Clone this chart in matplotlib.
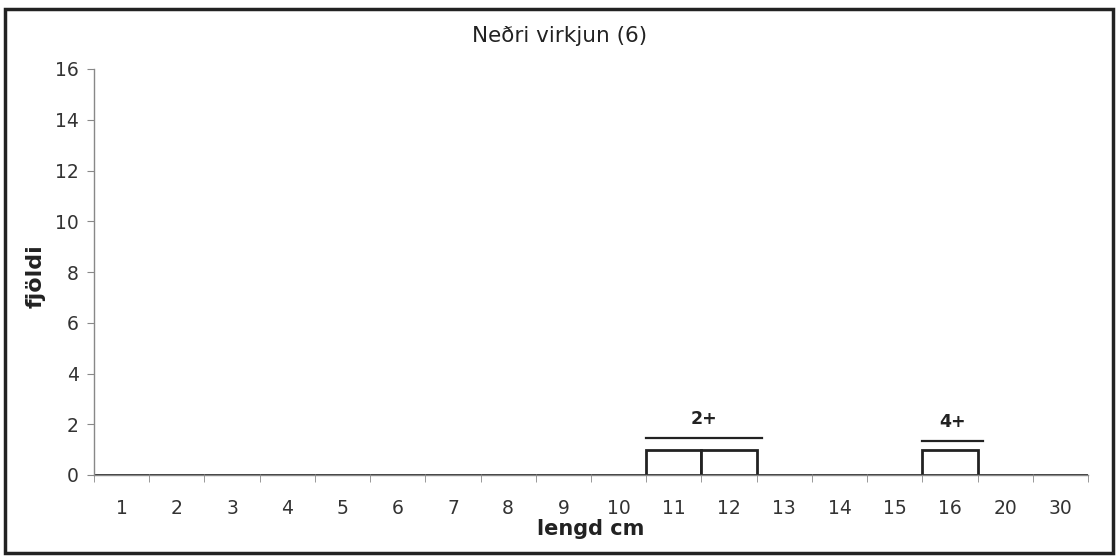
import numpy as np
import matplotlib.pyplot as plt
from matplotlib.patches import Rectangle

plt.rcParams['font.family'] = ['DejaVu Sans']

# data
categories = ['1', '2', '3', '4', '5', '6', '7', '8', '9', '10',
              '11', '12', '13', '14', '15', '16', '20', '30']
counts = [0, 0, 0, 0, 0, 0, 0, 0, 0, 0, 1, 1, 0, 0, 0, 1, 0, 0]
age_labels = ['2+', '4+']
age_spans = [('11', '12'), ('16', '16')]
age_line_y = [1.45, 1.35]

W, H = 1116, 556
fig = plt.figure(figsize=(W / 100, H / 100), dpi=100)
ax = fig.add_axes([94 / W, 1 - 475 / H, (1088 - 94) / W, (475 - 69) / H])

x = np.arange(len(categories))
ax.bar(x, counts, width=1.0, color='white', edgecolor='#222222', linewidth=2)

ax.set_xlim(-0.5, len(categories) - 0.5)
ax.set_ylim(0, 16)
ax.set_yticks(range(0, 17, 2))
ax.set_xticks(x)
ax.set_xticklabels(categories)
ax.set_xticks(np.arange(-0.5, len(categories), 1.0), minor=True)
ax.tick_params(axis='x', which='major', length=0, pad=17, labelsize=13.5, labelcolor='#333333')
ax.tick_params(axis='x', which='minor', length=5, direction='out', color='#888888')
ax.tick_params(axis='y', length=5, color='#888888', labelsize=13.5, labelcolor='#333333', pad=6)

for s in ['top', 'right']:
    ax.spines[s].set_visible(False)
for s in ['left', 'bottom']:
    ax.spines[s].set_color('#888888')
    ax.spines[s].set_linewidth(1.0)

# age group markers
for lab, (a, b), ly in zip(age_labels, age_spans, age_line_y):
    i0 = categories.index(a)
    i1 = categories.index(b)
    x0 = i0 - 0.5
    x1 = i1 + 0.5 + 0.1
    ax.plot([x0, x1], [ly, ly], color='#222222', lw=1.6, clip_on=False)
    ax.text((x0 + x1) / 2, ly + 0.4, lab, ha='center', va='bottom',
            fontsize=12.5, fontweight='bold', color='#222222')

fig.text(560 / W, 1 - 36 / H, 'Neðri virkjun (6)', ha='center', va='center',
         fontsize=15.5, color='#222222')
fig.text(591 / W, 1 - 529 / H, 'lengd cm', ha='center', va='center',
         fontsize=15, fontweight='bold', color='#222222')
fig.text(36 / W, 1 - 276 / H, 'fjöldi', ha='center', va='center', rotation=90,
         fontsize=16, fontweight='bold', color='#222222')

# outer frame
fig.patches.append(Rectangle((5 / W, 3 / H), 1108 / W, 544 / H,
                             transform=fig.transFigure, fill=False,
                             edgecolor='#222222', linewidth=2.5))

fig.savefig('out.png', dpi=100)
